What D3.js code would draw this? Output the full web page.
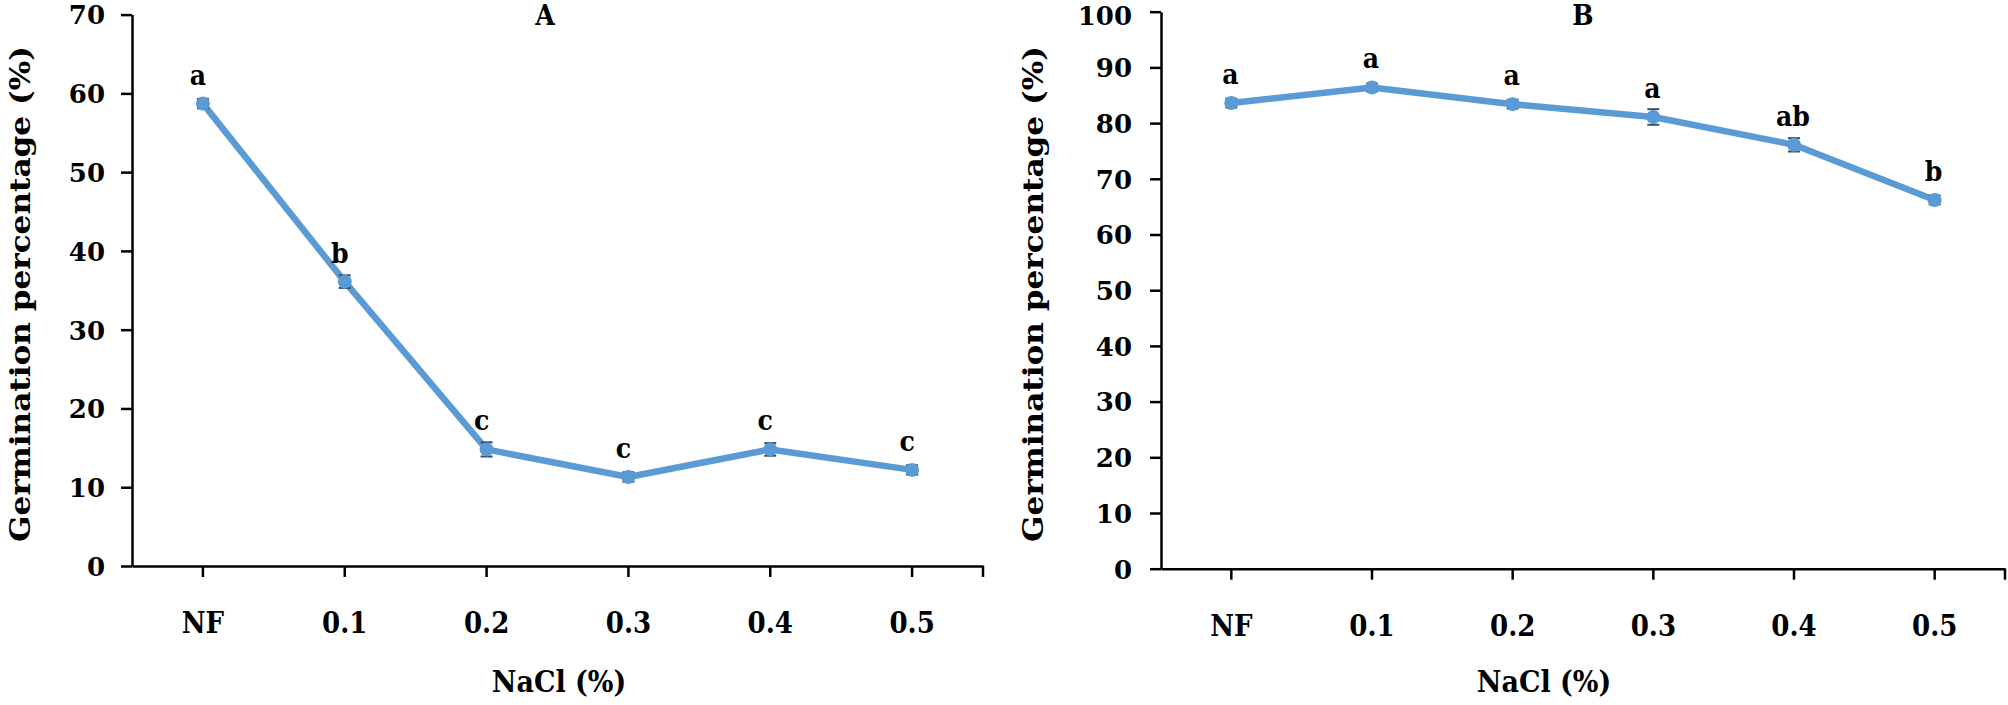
<!DOCTYPE html>
<html>
<head>
<meta charset="utf-8">
<script src="https://cdn.jsdelivr.net/npm/d3@7"></script>
<style>
  html, body { margin: 0; padding: 0; background: #ffffff; }
  svg { display: block; }
</style>
</head>
<body>
<div id="chart"></div>
<script>
// ---------- data ----------
const categories = ["NF", "0.1", "0.2", "0.3", "0.4", "0.5"];

const valuesA  = [58.7, 36.1, 14.8, 11.3, 14.8, 12.2];
const errorsA  = [0.6, 0.8, 0.9, 0.6, 0.8, 0.6];
const lettersA = ["a", "b", "c", "c", "c", "c"];
const yTicksA  = [0, 10, 20, 30, 40, 50, 60, 70];

const valuesB  = [83.6, 86.4, 83.4, 81.1, 76.1, 66.2];
const errorsB  = [0.8, 0.7, 0.8, 1.4, 1.2, 0.8];
const lettersB = ["a", "a", "a", "a", "ab", "b"];
const yTicksB  = [0, 10, 20, 30, 40, 50, 60, 70, 80, 90, 100];

const titleA = "A", titleB = "B";
const xTitle = "NaCl (%)";
const yTitle = "Germination percentage (%)";

// ---------- layout ----------
const W = 2008, H = 705;
const lineColor = "#5B9BD5";
const condensed = "'DejaVu Serif Condensed', 'DejaVu Serif', serif";
const wide = "'DejaVu Serif', serif";

const svg = d3.select("#chart").append("svg")
  .attr("width", W).attr("height", H)
  .attr("viewBox", `0 0 ${W} ${H}`);

svg.append("rect").attr("width", W).attr("height", H).attr("fill", "#fff");

function panel(cfg) {
  const x = d3.scaleBand().domain(categories).range([cfg.left, cfg.right]).padding(0);
  const y = d3.scaleLinear().domain([0, cfg.yMax]).range([cfg.bottom, cfg.top]);
  const cx = d => x(d) + x.bandwidth() / 2;
  const g = svg.append("g");

  // y axis
  const yAxis = g.append("g")
    .attr("transform", `translate(${cfg.left},0)`)
    .call(d3.axisLeft(y).tickValues(cfg.yTicks).tickSizeInner(11).tickSizeOuter(0));
  yAxis.selectAll("path, line").attr("stroke", "#000").attr("stroke-width", 2.5);
  yAxis.selectAll("text")
    .attr("x", -cfg.yLabelGap)
    .attr("dy", (d, i, n) => (i === n.length - 1 && y(d) < 13) ? "0.5em" : "0.36em")
    .attr("fill", "#000")
    .style("font-family", wide)
    .style("font-weight", "bold")
    .style("font-size", "26px");

  // x axis
  const xAxis = g.append("g")
    .attr("transform", `translate(0,${cfg.bottom})`)
    .call(d3.axisBottom(x).tickSizeInner(11).tickSizeOuter(0));
  xAxis.selectAll("path, line").attr("stroke", "#000").attr("stroke-width", 2.5);
  xAxis.selectAll("text")
    .attr("y", 67)
    .attr("dy", null)
    .attr("fill", "#000")
    .style("font-family", condensed)
    .style("font-weight", "bold")
    .style("font-size", "29px");
  // closing tick mark at right end of the category axis
  xAxis.append("line")
    .attr("x1", cfg.right).attr("x2", cfg.right)
    .attr("y1", 0).attr("y2", 11)
    .attr("stroke", "#000").attr("stroke-width", 2.5);

  const data = categories.map((c, i) => ({ c, v: cfg.values[i], e: cfg.errors[i], l: cfg.letters[i] }));

  // line
  g.append("path")
    .datum(data)
    .attr("fill", "none")
    .attr("stroke", lineColor)
    .attr("stroke-width", 6.5)
    .attr("stroke-linejoin", "round")
    .attr("d", d3.line().x(d => cx(d.c)).y(d => y(d.v)));

  // error bars
  const eb = g.append("g").selectAll("g").data(data).join("g");
  eb.append("line")
    .attr("x1", d => cx(d.c)).attr("x2", d => cx(d.c))
    .attr("y1", d => y(d.v - d.e)).attr("y2", d => y(d.v + d.e))
    .attr("stroke", "#3a4f66").attr("stroke-width", 2);
  eb.append("line")
    .attr("x1", d => cx(d.c) - 6).attr("x2", d => cx(d.c) + 6)
    .attr("y1", d => y(d.v + d.e)).attr("y2", d => y(d.v + d.e))
    .attr("stroke", "#3a4f66").attr("stroke-width", 2);
  eb.append("line")
    .attr("x1", d => cx(d.c) - 6).attr("x2", d => cx(d.c) + 6)
    .attr("y1", d => y(d.v - d.e)).attr("y2", d => y(d.v - d.e))
    .attr("stroke", "#3a4f66").attr("stroke-width", 2);

  // markers
  g.append("g").selectAll("circle").data(data).join("circle")
    .attr("cx", d => cx(d.c)).attr("cy", d => y(d.v))
    .attr("r", 7)
    .attr("fill", lineColor);

  // significance letters
  g.append("g").selectAll("text").data(data).join("text")
    .attr("x", d => cx(d.c) + cfg.letterDx)
    .attr("y", d => y(d.v) - 19)
    .attr("text-anchor", "middle")
    .attr("fill", "#000")
    .style("font-family", condensed)
    .style("font-weight", "bold")
    .style("font-size", "28px")
    .text(d => d.l);

  // panel title
  g.append("text")
    .attr("x", cfg.titleX).attr("y", 25)
    .attr("text-anchor", "middle")
    .attr("fill", "#000")
    .style("font-family", condensed)
    .style("font-weight", "bold")
    .style("font-size", "28px")
    .text(cfg.title);

  // x axis title
  g.append("text")
    .attr("x", cfg.xTitleX).attr("y", 692)
    .attr("text-anchor", "middle")
    .attr("fill", "#000")
    .style("font-family", condensed)
    .style("font-weight", "bold")
    .style("font-size", "30px")
    .text(xTitle);

  // y axis title
  g.append("text")
    .attr("transform", `translate(${cfg.yTitleX},294) rotate(-90)`)
    .attr("text-anchor", "middle")
    .attr("dy", "0.35em")
    .attr("textLength", 496)
    .attr("lengthAdjust", "spacingAndGlyphs")
    .attr("fill", "#000")
    .style("font-family", wide)
    .style("font-weight", "bold")
    .style("font-size", "28px")
    .text(yTitle);
}

panel({
  left: 132, right: 983, top: 14.6, bottom: 566, yMax: 70, yTicks: yTicksA,
  values: valuesA, errors: errorsA, letters: lettersA, letterDx: -5,
  title: titleA, titleX: 545, xTitleX: 559, yTitleX: 20, yLabelGap: 27
});

panel({
  left: 1161, right: 2005, top: 11.7, bottom: 568.7, yMax: 100, yTicks: yTicksB,
  values: valuesB, errors: errorsB, letters: lettersB, letterDx: -1,
  title: titleB, titleX: 1583, xTitleX: 1544, yTitleX: 1033, yLabelGap: 29
});
</script>
</body>
</html>
